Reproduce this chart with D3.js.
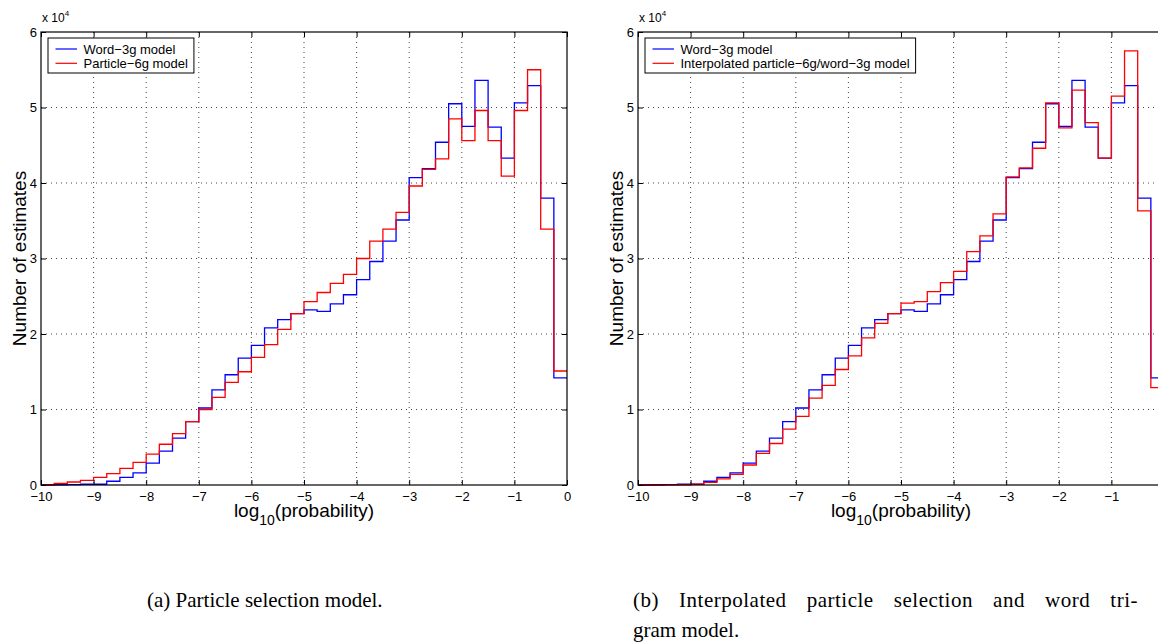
<!DOCTYPE html>
<html>
<head>
<meta charset="utf-8">
<script src="https://cdn.jsdelivr.net/npm/d3@7"></script>
<style>
  body { margin: 0; background: #fff; }
  svg text { font-family: "Liberation Sans", Arial, sans-serif; fill: #000; }
  .caption { font-family: "Liberation Serif", "Times New Roman", serif; font-size: 21px; }
</style>
</head>
<body>
<div id="chart"></div>
<script>
// bin edges of the log10(probability) histogram
var binEdges = [-10, -9.75, -9.5, -9.25, -9, -8.75, -8.5, -8.25, -8, -7.75, -7.5, -7.25,
  -7, -6.75, -6.5, -6.25, -6, -5.75, -5.5, -5.25, -5, -4.75, -4.5, -4.25,
  -4, -3.75, -3.5, -3.25, -3, -2.75, -2.5, -2.25, -2, -1.75, -1.5, -1.25,
  -1, -0.75, -0.5, -0.25, 0];

// number of estimates per bin
var word3g = [0, 30, 50, 100, 100, 500, 1000, 1600, 2900, 4500, 6200, 8400,
  10200, 12600, 14600, 16800, 18500, 20800, 21900, 22700, 23200, 23000, 24000, 25200,
  27200, 29600, 32300, 35100, 40700, 41900, 45400, 50500, 47500, 53600, 47400, 43300,
  50600, 52900, 38000, 14200];

var particle6g = [0, 200, 400, 600, 1000, 1500, 2200, 3000, 4100, 5400, 6800, 8400,
  10000, 11600, 13600, 15000, 16900, 18600, 20600, 22700, 24300, 25500, 26700, 27900,
  30000, 32300, 33900, 36100, 39600, 41800, 43200, 48500, 45600, 49600, 45600, 40900,
  49600, 55000, 33900, 15100];

var interpolated = [0, 0, 20, 30, 100, 350, 800, 1400, 2650, 4200, 5500, 7400,
  9100, 11500, 13200, 15300, 17100, 19500, 21400, 22700, 24100, 24300, 25600, 26800,
  28300, 30900, 33000, 35900, 40800, 42000, 44600, 50600, 47300, 52300, 48000, 43300,
  51500, 57500, 36300, 12900];

var xTicks = [-10, -9, -8, -7, -6, -5, -4, -3, -2, -1, 0];
var yTicks = [0, 10000, 20000, 30000, 40000, 50000, 60000];

var pageW = 1158, pageH = 643;

var Panel = {
  draw: function(svg, series, options){
    var cfg = {
      left: 41,
      top: 32,
      w: 526,
      h: 453
    };
    for(var i in options){
      if('undefined' !== typeof options[i]){
        cfg[i] = options[i];
      }
    }

    var g = svg.append("g")
        .attr("transform", "translate(" + cfg.left + "," + cfg.top + ")");

    var x = d3.scaleLinear().domain([-10, 0]).range([0, cfg.w]);
    var y = d3.scaleLinear().domain([0, 60000]).range([cfg.h, 0]);

    // dotted grid
    g.selectAll("line.gx")
        .data(xTicks.slice(1, -1))
      .enter().append("line")
        .attr("x1", function(d) { return x(d); })
        .attr("x2", function(d) { return x(d); })
        .attr("y1", 0).attr("y2", cfg.h)
        .attr("stroke", "#444").attr("stroke-dasharray", "1,4");
    g.selectAll("line.gy")
        .data(yTicks.slice(1, -1))
      .enter().append("line")
        .attr("y1", function(d) { return y(d); })
        .attr("y2", function(d) { return y(d); })
        .attr("x1", 0).attr("x2", cfg.w)
        .attr("stroke", "#444").attr("stroke-dasharray", "1,4");

    // stairs
    var line = d3.line()
        .curve(d3.curveStepAfter)
        .x(function(d) { return x(d[0]); })
        .y(function(d) { return y(d[1]); });

    series.forEach(function(s) {
      var pts = s.values.map(function(v, k) { return [binEdges[k], v]; });
      pts.push([binEdges[binEdges.length - 1], s.values[s.values.length - 1]]);
      g.append("path")
          .datum(pts)
          .attr("fill", "none")
          .attr("stroke", s.color)
          .attr("stroke-width", 1.3)
          .attr("d", line);
    });

    // axes, ticks pointing inward
    var xAxis = d3.axisBottom(x).tickValues(xTicks).tickSizeInner(-5).tickSizeOuter(0).tickPadding(7);
    var yAxis = d3.axisLeft(y).tickValues(yTicks).tickSizeInner(-5).tickSizeOuter(0).tickPadding(4)
        .tickFormat(function(d) { return d / 10000; });

    var gx = g.append("g").attr("transform", "translate(0," + cfg.h + ")").call(xAxis);
    var gy = g.append("g").call(yAxis);
    g.append("g").call(d3.axisTop(x).tickValues(xTicks).tickSizeInner(-5).tickSizeOuter(0).tickFormat(""));
    g.append("g").attr("transform", "translate(" + cfg.w + ",0)")
        .call(d3.axisRight(y).tickValues(yTicks).tickSizeInner(-5).tickSizeOuter(0).tickFormat(""));

    g.selectAll(".domain").remove();
    g.selectAll(".tick line").attr("stroke", "#000");
    gx.selectAll("text").style("font-size", "13px").attr("font-family", null);
    gy.selectAll("text").style("font-size", "13px").attr("font-family", null);
    // labels that fall past the page edge are not shown
    gx.selectAll(".tick").filter(function(d) { return cfg.left + x(d) > pageW; })
        .select("text").remove();

    g.append("rect")
        .attr("width", cfg.w).attr("height", cfg.h)
        .attr("fill", "none").attr("stroke", "#000").attr("stroke-width", 1.2);

    // exponent label
    var ex = g.append("text").attr("x", 1).attr("y", -10).style("font-size", "12px");
    ex.append("tspan").text("x 10");
    ex.append("tspan").attr("dy", -6).style("font-size", "8px").text("4");

    // axis titles
    g.append("text")
        .attr("transform", "translate(-15," + (cfg.h / 2) + ") rotate(-90)")
        .attr("text-anchor", "middle")
        .style("font-size", "19px")
        .text("Number of estimates");

    var xl = g.append("text")
        .attr("x", cfg.w / 2).attr("y", cfg.h + 32)
        .attr("text-anchor", "middle")
        .style("font-size", "19px");
    xl.append("tspan").text("log");
    xl.append("tspan").attr("dy", 8).style("font-size", "14px").text("10");
    xl.append("tspan").attr("dy", -8).text("(probability)");

    // legend
    var lg = g.append("g").attr("transform", "translate(7,6)");
    var box = lg.append("rect").attr("height", 35).attr("fill", "#fff")
        .attr("stroke", "#000").attr("stroke-width", 1);
    var maxW = 0;
    series.forEach(function(s, k) {
      var yy = 11 + k * 14.3;
      lg.append("line")
          .attr("x1", 7.5).attr("x2", 29).attr("y1", yy).attr("y2", yy)
          .attr("stroke", s.color).attr("stroke-width", 1.2);
      var t = lg.append("text")
          .attr("x", 35.5).attr("y", yy + 4.5)
          .style("font-size", "13px")
          .text(s.label);
      maxW = Math.max(maxW, t.node().getComputedTextLength());
    });
    box.attr("width", 35.5 + maxW + 6);
  }
};

var svg = d3.select("#chart").append("svg")
    .attr("width", pageW).attr("height", pageH);

Panel.draw(svg, [
  { label: "Word\u22123g model", color: "#0000ff", values: word3g },
  { label: "Particle\u22126g model", color: "#ff0000", values: particle6g }
], { left: 41 });

Panel.draw(svg, [
  { label: "Word\u22123g model", color: "#0000ff", values: word3g },
  { label: "Interpolated particle\u22126g/word\u22123g model", color: "#ff0000", values: interpolated }
], { left: 638 });

// sub-figure captions
svg.append("text").attr("class", "caption")
    .attr("x", 147).attr("y", 607)
    .text("(a) Particle selection model.");

// justified first line of caption (b)
var capB = svg.append("text").attr("class", "caption")
    .attr("x", 633).attr("y", 607)
    .attr("letter-spacing", 0.5)
    .text("(b) Interpolated particle selection and word tri-");
var natural = capB.node().getComputedTextLength();
capB.attr("word-spacing", Math.max(0, (505 - natural) / 6));

svg.append("text").attr("class", "caption")
    .attr("x", 633).attr("y", 637)
    .text("gram model.");
</script>
</body>
</html>
